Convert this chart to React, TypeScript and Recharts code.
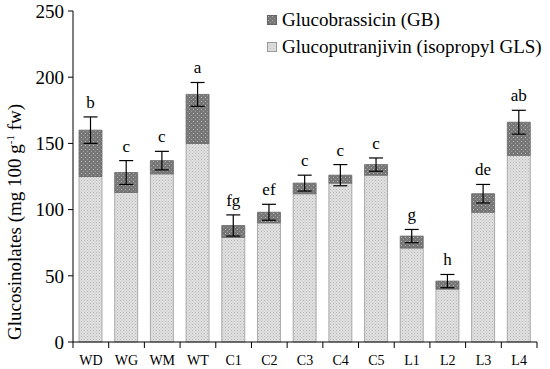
import { BarChart, Bar, XAxis, YAxis, ErrorBar, LabelList } from 'recharts';

// Glucosinolate content per sample (mg 100 g-1 fw)
const categories = ['WD', 'WG', 'WM', 'WT', 'C1', 'C2', 'C3', 'C4', 'C5', 'L1', 'L2', 'L3', 'L4'];
const isopropylValues = [125, 113, 127, 150, 79, 90, 112, 120, 126, 71, 40, 98, 141];
const glucobrassicinValues = [35, 15, 10, 37, 9, 8, 8, 6, 8, 9, 6, 14, 25];
const totalErrors = [10, 9, 7, 9, 8, 6, 6, 8, 5, 5, 5, 7, 9];
const letters = ['b', 'c', 'c', 'a', 'fg', 'ef', 'c', 'c', 'c', 'g', 'h', 'de', 'ab'];
const yTicks = [0, 50, 100, 150, 200, 250];

const data = categories.map((name, i) => ({
  name,
  gp: isopropylValues[i],
  gb: glucobrassicinValues[i],
  err: totalErrors[i],
  letter: letters[i],
}));

const FONT = '"Liberation Serif", "Times New Roman", serif';

function XTick(props: any) {
  const { x, y, payload, index } = props;
  const off = payload?.offset ?? 464 / 13 / 2;
  return (
    <g>
      <line x1={x - off} y1={y} x2={x - off} y2={y + 6} stroke="#000" />
      {index === categories.length - 1 && (
        <line x1={x + off} y1={y} x2={x + off} y2={y + 6} stroke="#000" />
      )}
      <text x={x} y={y + 23} textAnchor="middle" fontFamily={FONT} fontSize={14} fill="#000">
        {payload.value}
      </text>
    </g>
  );
}

function LetterLabel(props: any) {
  const { x, y, width, height, index, value } = props;
  const scale = height / glucobrassicinValues[index];
  const errPx = totalErrors[index] * scale;
  return (
    <text
      x={x + width / 2}
      y={y - errPx - 9}
      textAnchor="middle"
      fontFamily={FONT}
      fontSize={17}
      fill="#000"
    >
      {value}
    </text>
  );
}

function YLabel() {
  return (
    <text
      transform="translate(21, 222) rotate(-90)"
      textAnchor="middle"
      fontFamily={FONT}
      fontSize={19}
      fill="#000"
    >
      Glucosinolates (mg 100 g
      <tspan dy={-7} fontSize={11}>-1</tspan>
      <tspan dy={7}> fw)</tspan>
    </text>
  );
}

function App() {
  return (
    <div style={{ position: 'absolute', left: 0, top: 0, width: 550, height: 369, background: '#fff' }}>
      <BarChart
        width={550}
        height={369}
        data={data}
        margin={{ top: 11, right: 13, left: 0, bottom: 0 }}
        barSize={23}
      >
        <defs>
          <pattern id="gpPat" width="3" height="3" patternUnits="userSpaceOnUse">
            <rect width="3" height="3" fill="#e0e0e0" />
            <rect x="0" y="0" width="1" height="1" fill="#b8b8b8" />
            <rect x="1.5" y="1.5" width="1" height="1" fill="#c4c4c4" />
          </pattern>
          <pattern id="gbPat" width="4" height="4" patternUnits="userSpaceOnUse">
            <rect width="4" height="4" fill="#777" />
            <rect x="1" y="1" width="1" height="1" fill="#b4b4b4" />
            <rect x="3" y="3" width="1" height="1" fill="#9c9c9c" />
          </pattern>
        </defs>
        <XAxis
          dataKey="name"
          height={27}
          axisLine={{ stroke: '#000' }}
          tickLine={false}
          tickSize={0}
          tickMargin={0}
          tick={<XTick />}
          interval={0}
        />
        <YAxis
          width={73}
          domain={[0, 250]}
          ticks={yTicks}
          axisLine={{ stroke: '#000' }}
          tickLine={{ stroke: '#000' }}
          tickSize={5}
          tickMargin={4}
          tick={{ fontFamily: FONT, fontSize: 19, fill: '#000' }}
          label={<YLabel />}
        />
        <Bar dataKey="gp" stackId="a" fill="url(#gpPat)" stroke="#999" strokeWidth={0.8} isAnimationActive={false} />
        <Bar dataKey="gb" stackId="a" fill="url(#gbPat)" stroke="#666" strokeWidth={0.8} isAnimationActive={false}>
          <ErrorBar dataKey="err" width={7} stroke="#000" strokeWidth={1.2} direction="y" />
          <LabelList dataKey="letter" content={<LetterLabel />} />
        </Bar>
      </BarChart>
      <div style={{ position: 'absolute', left: 267, top: 6, fontFamily: FONT, fontSize: 19, color: '#000', lineHeight: '27px' }}>
        <div style={{ display: 'flex', alignItems: 'center' }}>
          <svg width={10} height={10} style={{ marginRight: 5 }}>
            <rect x={0.5} y={0.5} width={9} height={9} fill="url(#gbPat)" stroke="#666" />
          </svg>
          Glucobrassicin (GB)
        </div>
        <div style={{ display: 'flex', alignItems: 'center' }}>
          <svg width={10} height={10} style={{ marginRight: 5 }}>
            <rect x={0.5} y={0.5} width={9} height={9} fill="url(#gpPat)" stroke="#999" />
          </svg>
          Glucoputranjivin (isopropyl GLS)
        </div>
      </div>
    </div>
  );
}

export default App;
